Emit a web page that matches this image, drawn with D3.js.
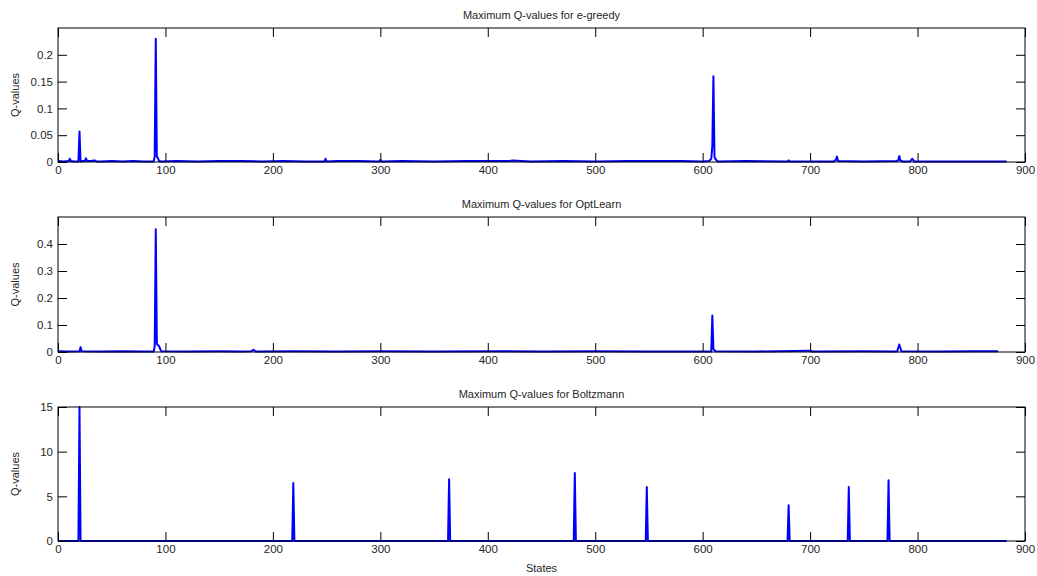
<!DOCTYPE html>
<html>
<head>
<meta charset="utf-8">
<script src="https://cdn.jsdelivr.net/npm/d3@7"></script>
<style>
  html, body { margin: 0; padding: 0; background: #fff; }
  svg { display: block; }
  text { font-family: "Liberation Sans", Arial, sans-serif; }
</style>
</head>
<body>
<svg id="chart" width="1037" height="576"></svg>
<script>
// ---------- data ----------
const xTicks = [0, 100, 200, 300, 400, 500, 600, 700, 800, 900];

const egreedyStates = [1, 5, 10, 11, 12, 15, 19, 20, 21, 23, 25, 26, 27, 30, 34, 36, 40, 50, 60, 70, 80, 89, 90, 91, 92, 93, 94, 96, 110, 130, 150, 170, 190, 210, 230, 248, 249, 250, 260, 280, 299, 300, 301, 320, 350, 380, 400, 420, 423, 440, 470, 500, 530, 560, 580, 600, 606, 608, 609, 610, 611, 612, 614, 640, 679, 680, 681, 700, 722, 724, 725, 726, 750, 780, 782, 783, 784, 786, 793, 795, 797, 820, 850, 883];
const egreedyValues = [0.002, 0.001, 0.002, 0.006, 0.002, 0.001, 0.001, 0.057, 0.001, 0.002, 0.002, 0.007, 0.002, 0.002, 0.003, 0.001, 0.001, 0.002, 0.001, 0.002, 0.001, 0.001, 0.01, 0.23, 0.01, 0.007, 0.002, 0.001, 0.002, 0.001, 0.002, 0.002, 0.001, 0.002, 0.001, 0.001, 0.006, 0.001, 0.002, 0.002, 0.001, 0.004, 0.001, 0.002, 0.001, 0.002, 0.002, 0.002, 0.003, 0.001, 0.002, 0.001, 0.002, 0.002, 0.002, 0.001, 0.002, 0.006, 0.03, 0.16, 0.01, 0.005, 0.001, 0.002, 0.001, 0.003, 0.001, 0.001, 0.001, 0.004, 0.01, 0.002, 0.001, 0.002, 0.003, 0.011, 0.003, 0.001, 0.001, 0.006, 0.001, 0.001, 0.001, 0.001];
const egreedyTicks = [0, 0.05, 0.1, 0.15, 0.2];

const optStates = [1, 10, 20, 21, 22, 40, 60, 80, 89, 90, 91, 92, 93, 94, 96, 120, 150, 170, 180, 182, 184, 220, 260, 300, 350, 400, 450, 500, 550, 600, 608, 609, 610, 612, 650, 700, 702, 750, 781, 783, 785, 820, 850, 875];
const optValues = [0.003, 0.002, 0.003, 0.018, 0.003, 0.002, 0.003, 0.002, 0.002, 0.02, 0.455, 0.03, 0.025, 0.022, 0.003, 0.002, 0.003, 0.002, 0.003, 0.008, 0.002, 0.003, 0.002, 0.003, 0.002, 0.003, 0.002, 0.003, 0.002, 0.002, 0.002, 0.135, 0.01, 0.003, 0.002, 0.005, 0.002, 0.003, 0.002, 0.028, 0.003, 0.002, 0.003, 0.003];
const optTicks = [0, 0.1, 0.2, 0.3, 0.4];

const boltzStates = [1, 19, 20, 21, 218, 219, 220, 363, 364, 365, 480, 481, 482, 547, 548, 549, 679, 680, 681, 735, 736, 737, 772, 773, 774, 883];
const boltzValues = [0, 0, 15, 0, 0, 6.5, 0, 0, 6.9, 0, 0, 7.6, 0, 0, 6.05, 0, 0, 4.0, 0, 0, 6.05, 0, 0, 6.8, 0, 0];
const boltzTicks = [0, 5, 10, 15];

const panels = [
  { title: "Maximum Q-values for e-greedy", states: egreedyStates, values: egreedyValues, ymax: 0.25, ticks: egreedyTicks, top: 28, bottom: 162 },
  { title: "Maximum Q-values for OptLearn", states: optStates, values: optValues, ymax: 0.5, ticks: optTicks, top: 217, bottom: 352 },
  { title: "Maximum Q-values for Boltzmann", states: boltzStates, values: boltzValues, ymax: 15, ticks: boltzTicks, top: 407, bottom: 541 }
];

// ---------- drawing ----------
const svg = d3.select("#chart");
svg.append("rect").attr("width", 1037).attr("height", 576).attr("fill", "#fff");

const left = 58, right = 1025;
const x = d3.scaleLinear().domain([0, 900]).range([left, right]);
const TL = 9;

panels.forEach((p, i) => {
  const y = d3.scaleLinear().domain([0, p.ymax]).range([p.bottom, p.top]);
  const g = svg.append("g");

  const clipId = "clip" + i;
  svg.append("clipPath").attr("id", clipId)
    .append("rect").attr("x", left).attr("y", p.top - 1).attr("width", right - left).attr("height", p.bottom - p.top + 2);

  // line
  const pts = p.states.map((s, k) => [s, p.values[k]]);
  g.append("path")
    .datum(pts)
    .attr("clip-path", `url(#${clipId})`)
    .attr("fill", "none")
    .attr("stroke", "#0000ff")
    .attr("stroke-width", 2)
    .attr("stroke-linejoin", "round")
    .attr("d", d3.line().x(d => x(d[0])).y(d => y(d[1])));

  // axes
  const fmt = d => String(d);
  const axB = g.append("g").attr("transform", `translate(0,${p.bottom})`)
    .call(d3.axisBottom(x).tickValues(xTicks).tickSize(-TL).tickPadding(4).tickFormat(fmt));
  const axT = g.append("g").attr("transform", `translate(0,${p.top})`)
    .call(d3.axisTop(x).tickValues(xTicks).tickSize(-TL).tickFormat(""));
  const axL = g.append("g").attr("transform", `translate(${left},0)`)
    .call(d3.axisLeft(y).tickValues(p.ticks).tickSize(-TL).tickPadding(5).tickFormat(fmt));
  const axR = g.append("g").attr("transform", `translate(${right},0)`)
    .call(d3.axisRight(y).tickValues(p.ticks).tickSize(-TL).tickFormat(""));

  [axB, axT, axL, axR].forEach(a => {
    a.select(".domain").remove();
    a.selectAll(".tick line").attr("stroke", "#000").attr("stroke-width", 1);
    a.selectAll("text").attr("fill", "#262626").style("font-size", "11.5px")
      .style("font-family", "'Liberation Sans', Arial, sans-serif");
  });

  // box
  g.append("rect")
    .attr("x", left).attr("y", p.top)
    .attr("width", right - left).attr("height", p.bottom - p.top)
    .attr("fill", "none").attr("stroke", "#000").attr("stroke-width", 1);

  // title
  g.append("text")
    .attr("x", (left + right) / 2).attr("y", p.top - 9)
    .attr("text-anchor", "middle")
    .attr("fill", "#262626")
    .style("font-size", "11px")
    .text(p.title);

  // y label
  g.append("text")
    .attr("transform", `translate(19,${(p.top + p.bottom) / 2}) rotate(-90)`)
    .attr("text-anchor", "middle")
    .attr("fill", "#262626")
    .style("font-size", "11px")
    .text("Q-values");
});

svg.append("text")
  .attr("x", (left + right) / 2).attr("y", 572)
  .attr("text-anchor", "middle")
  .attr("fill", "#262626")
  .style("font-size", "11px")
  .text("States");
</script>
</body>
</html>
